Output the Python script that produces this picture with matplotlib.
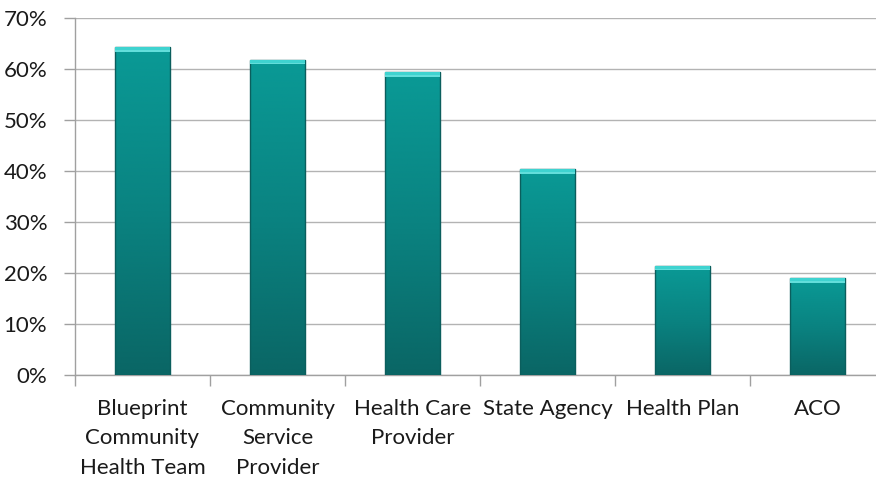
import numpy as np
import matplotlib
matplotlib.use("Agg")
import matplotlib.pyplot as plt
from matplotlib.colors import LinearSegmentedColormap
from matplotlib.patches import Rectangle

categories = ["Blueprint\nCommunity\nHealth Team", "Community\nService\nProvider",
              "Health Care\nProvider", "State Agency", "Health Plan", "ACO"]
values = [64.3, 61.8, 59.4, 40.4, 21.4, 19.0]
y_ticks = [0, 10, 20, 30, 40, 50, 60, 70]
y_tick_labels = ["0%", "10%", "20%", "30%", "40%", "50%", "60%", "70%"]

plt.rcParams["font.family"] = ["Lato", "DejaVu Sans"]

fig = plt.figure(figsize=(8.76, 4.8), dpi=100)
ax = fig.add_axes([75 / 876, 105 / 480, 810 / 876, 357 / 480])

n = len(categories)
x = np.arange(n)
width = 0.41

ax.set_xlim(-0.5, n - 0.5)
ax.set_ylim(0, 70)

# teal vertical gradient for the bar bodies
cmap = LinearSegmentedColormap.from_list("teal", ["#0a6665", "#0a8381", "#0a9a96"])
grad = np.linspace(0, 1, 256).reshape(-1, 1)

bars = ax.bar(x, values, width=width, color="none", edgecolor="none", zorder=3)
for rect, v in zip(bars, values):
    x0 = rect.get_x()
    im = ax.imshow(grad, extent=(x0, x0 + width, 0, v), origin="lower",
                   cmap=cmap, aspect="auto", zorder=3, interpolation="bicubic")
    clip = Rectangle((x0, 0), width, v, transform=ax.transData)
    im.set_clip_path(clip)
    # darker outline
    ax.add_patch(Rectangle((x0, 0), width, v, fill=False, edgecolor="#0b5e5d",
                           linewidth=1.0, zorder=4))
    # bevelled highlight along the top edge
    ax.add_patch(Rectangle((x0, v - 0.9), width, 0.9, facecolor="#3fd3d0",
                           edgecolor="none", zorder=4))
    ax.add_patch(Rectangle((x0, v - 0.9), width, 0.3, facecolor="#7ae6e3",
                           edgecolor="none", zorder=4, alpha=0.6))

ax.set_yticks(y_ticks)
ax.set_yticklabels(y_tick_labels, fontsize=16, color="#1a1a1a")
ax.yaxis.grid(True, color="#b3b3b3", linewidth=1.0, zorder=0)
ax.set_axisbelow(True)

ax.set_xticks(np.arange(-0.5, n, 1.0))
ax.set_xticklabels([])
ax.set_xticks(x, minor=True)
ax.set_xticklabels(categories, minor=True, fontsize=16, color="#1a1a1a",
                   linespacing=1.6, va="top")
ax.tick_params(axis="x", which="minor", length=0, pad=17)
ax.tick_params(axis="x", which="major", length=8, color="#a0a0a0", width=1.0)
ax.tick_params(axis="y", length=8, color="#a0a0a0", width=1.0, pad=12)

for side in ("top", "right"):
    ax.spines[side].set_visible(False)
for side in ("left", "bottom"):
    ax.spines[side].set_color("#a0a0a0")
    ax.spines[side].set_linewidth(1.0)

fig.savefig("out.png", dpi=100)
